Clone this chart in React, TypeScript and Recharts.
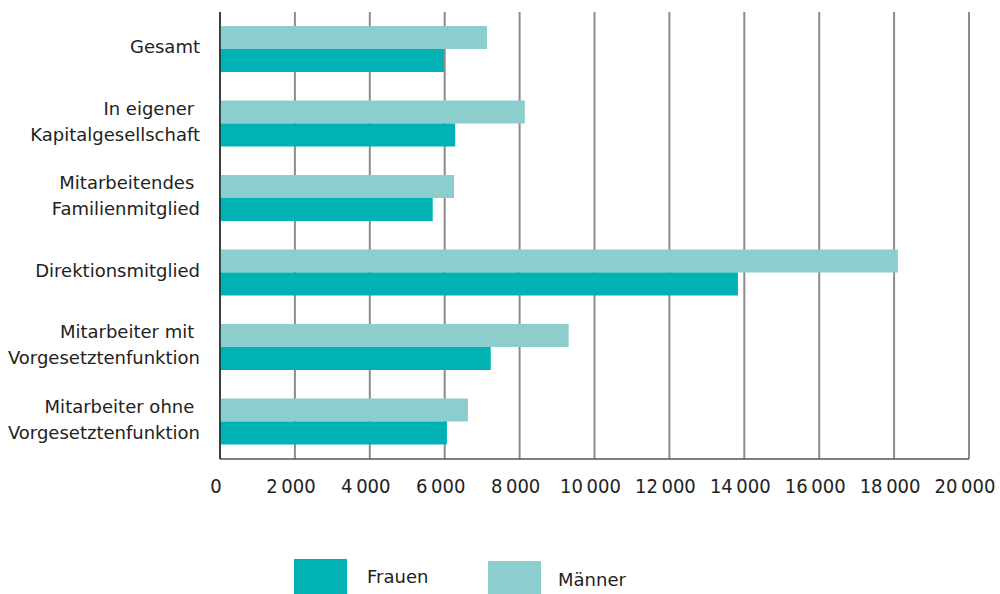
import React from 'react';
import { BarChart, Bar, XAxis, YAxis, CartesianGrid, Legend } from 'recharts';

const categories = [
  'Gesamt',
  'In eigener \nKapitalgesellschaft',
  'Mitarbeitendes \nFamilienmitglied',
  'Direktionsmitglied',
  'Mitarbeiter mit \nVorgesetztenfunktion',
  'Mitarbeiter ohne \nVorgesetztenfunktion',
];
const frauen = [5980, 6280, 5680, 13830, 7230, 6060];
const maenner = [7130, 8140, 6250, 18100, 9310, 6620];
const xTicks = [0, 2000, 4000, 6000, 8000, 10000, 12000, 14000, 16000, 18000, 20000];

const COLORS = {
  frauen: '#00b2b4',
  maenner: '#8ccdcd',
};

const data = categories.map((name, i) => ({ name, frauen: frauen[i], maenner: maenner[i] }));

const TEXT = '#222';
const FONT = "'DejaVu Sans', sans-serif";

const formatThousands = (v: number) =>
  v === 0 ? '0' : `${Math.floor(v / 1000)}\u2009${String(v % 1000).padStart(3, '0')}`;

const CategoryTick = (props: any) => {
  const { x, y, payload } = props;
  const lines: string[] = String(payload.value).split('\n');
  const startY = y - (lines.length - 1) * 13 - 3;
  return (
    <text
      x={x}
      y={startY}
      textAnchor="end"
      dominantBaseline="central"
      fill={TEXT}
      fontSize={18}
      fontFamily={FONT}
      style={{ whiteSpace: 'pre' }}
    >
      {lines.map((line, i) => (
        <tspan key={i} x={x} dy={i === 0 ? 0 : 26}>
          {line}
        </tspan>
      ))}
    </text>
  );
};

const legendItems = [
  { name: 'Frauen', color: COLORS.frauen, left: 294, top: 4, h: 35, textLeft: 367, textTop: 22 },
  { name: 'Männer', color: COLORS.maenner, left: 488, top: 6, h: 33, textLeft: 558, textTop: 25 },
];

const ChartLegend = () => (
  <div style={{ position: 'relative', width: 1000, height: 39 }}>
    {legendItems.map((item) => (
      <React.Fragment key={item.name}>
        <div
          style={{
            position: 'absolute',
            left: item.left,
            top: item.top,
            width: 53,
            height: item.h,
            background: item.color,
          }}
        />
        <div
          style={{
            position: 'absolute',
            left: item.textLeft,
            top: item.textTop,
            transform: 'translateY(-50%)',
            fontFamily: FONT,
            fontSize: 18,
            color: TEXT,
            lineHeight: 1,
          }}
        >
          {item.name}
        </div>
      </React.Fragment>
    ))}
  </div>
);

export default function App() {
  return (
    <div style={{ position: 'absolute', left: 0, top: 0, width: 1000, height: 594, background: '#fff' }}>
      <BarChart
        width={1000}
        height={594}
        data={data}
        layout="vertical"
        margin={{ top: 12, right: 31, left: 0, bottom: 90 }}
        barGap={0}
      >
        <CartesianGrid horizontal={false} stroke="#8c8c8c" strokeWidth={2} />
        <XAxis
          type="number"
          domain={[0, 20000]}
          ticks={xTicks}
          interval={0}
          tickFormatter={formatThousands}
          tickLine={false}
          axisLine={{ stroke: '#555', strokeWidth: 1.5 }}
          tickSize={0}
          tickMargin={20}
          height={45}
          tick={{ fill: TEXT, fontSize: 20, dx: -4, fontFamily: "'DejaVu Sans Condensed', 'DejaVu Sans', sans-serif" }}
        />
        <YAxis
          type="category"
          dataKey="name"
          width={220}
          tickLine={false}
          tickSize={0}
          tickMargin={20}
          interval={0}
          axisLine={{ stroke: '#222', strokeWidth: 1.5 }}
          tick={<CategoryTick />}
        />
        <Legend
          layout="horizontal"
          verticalAlign="middle"
          align="center"
          wrapperStyle={{ top: 555, left: 0, width: 1000, height: 39 }}
          content={() => <ChartLegend />}
        />
        <Bar dataKey="maenner" name="Männer" fill={COLORS.maenner} barSize={23} isAnimationActive={false} />
        <Bar dataKey="frauen" name="Frauen" fill={COLORS.frauen} barSize={23} isAnimationActive={false} />
      </BarChart>
    </div>
  );
}
